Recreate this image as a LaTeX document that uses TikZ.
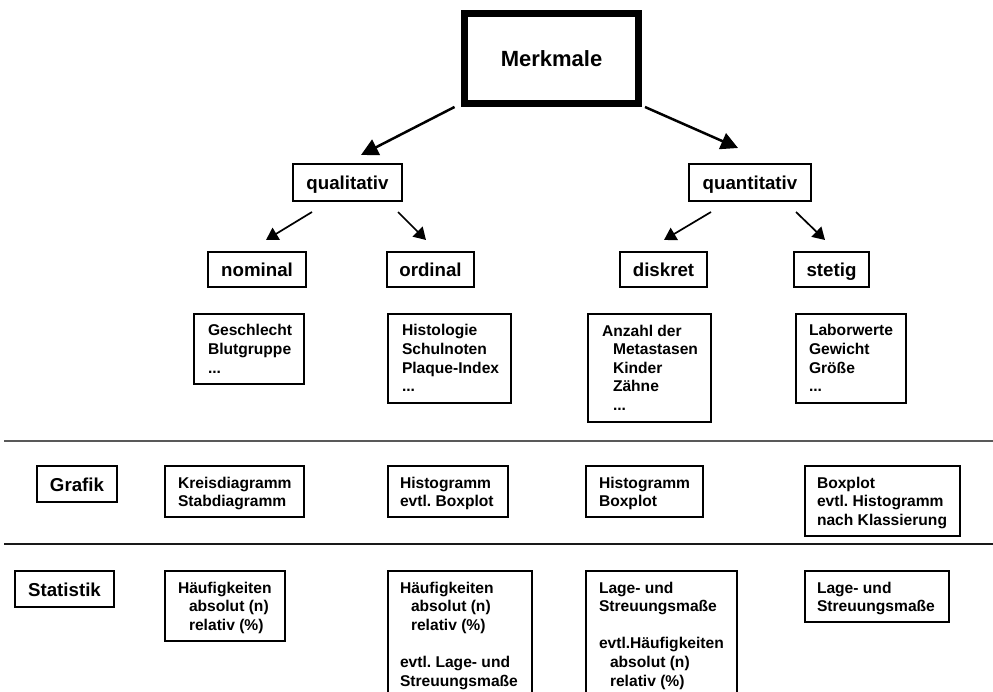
\documentclass[tikz,border=0pt]{standalone}
\usepackage{fontspec}
\setmainfont{Liberation Sans}
\usetikzlibrary{arrows.meta,calc}
\frenchspacing
\newcommand{\boxtext}[4]{\parbox[c][#2][t]{#1}{\raggedright\frenchspacing\leftskip=#3\relax\fontsize{15.6pt}{18.6pt}\selectfont\bfseries\rule{0pt}{22pt}#4}}
\newcommand{\ind}{\hspace*{11pt}}
\begin{document}
\begin{tikzpicture}[x=1pt,y=-1pt,
  thickbox/.style={draw, line width=7pt, inner sep=0pt, outer sep=0pt,
    font=\fontsize{22pt}{26pt}\selectfont\bfseries, text height=15.5pt, text depth=0pt},
  catbox/.style={draw, line width=1.2pt, inner sep=0pt, outer sep=0pt,
    font=\fontsize{18.7pt}{22pt}\selectfont\bfseries, text height=14pt, text depth=0pt},
  infobox/.style={draw, line width=1.2pt, inner sep=0pt, outer sep=0pt, anchor=north west},
  bigarrow/.style={-{Triangle[length=17pt,width=17pt]}, line width=2.5pt},
  smallarrow/.style={-{Triangle[length=12pt,width=14pt]}, line width=1.7pt},
  sepline/.style={line width=1.4pt},
]
\useasboundingbox (0,0) rectangle (993,692);
\clip (0,0) rectangle (993,692);

% top hierarchy
\node[thickbox, minimum width=174pt, minimum height=90pt] (merk) at (551.5,58.5) {Merkmale};
\node[catbox, minimum width=109pt, minimum height=37pt] (qual) at (347.5,182.5) {qualitativ};
\node[catbox, minimum width=122pt, minimum height=37pt] (quant) at (750,182.5) {quantitativ};
\node[catbox, minimum width=98pt, minimum height=35pt] (nominal) at (257,269.5) {nominal};
\node[catbox, minimum width=87pt, minimum height=35pt] (ordinal) at (430.5,269.5) {ordinal};
\node[catbox, minimum width=87pt, minimum height=35pt] (diskret) at (663.5,269.5) {diskret};
\node[catbox, minimum width=75pt, minimum height=35pt] (stetig) at (831.5,269.5) {stetig};

\draw[bigarrow] ($(merk.south west)+(-10,3.5)$) -- ($(qual.north)+(13.5,-9)$);
\draw[bigarrow] ($(merk.south east)+(6.5,3.5)$) -- ($(quant.north)+(-12,-16)$);
\draw[smallarrow] ($(qual.south)+(-35.5,11)$) -- ($(nominal.north)+(9,-12)$);
\draw[smallarrow] ($(qual.south)+(50.5,11)$) -- ($(ordinal.north)+(-4.5,-12)$);
\draw[smallarrow] ($(quant.south)+(-39,11)$) -- ($(diskret.north)+(0.5,-12)$);
\draw[smallarrow] ($(quant.south)+(46,11)$) -- ($(stetig.north)+(-6.5,-12)$);

% examples
\node[infobox] (ex1) at (194,314) {\boxtext{110pt}{70pt}{14pt}{Geschlecht\\Blutgruppe\\...}};
\node[infobox] (ex2) at (388,314) {\boxtext{123pt}{89pt}{14pt}{Histologie\\Schulnoten\\Plaque-Index\\...}};
\node[infobox] (ex3) at (588,314) {\boxtext{123pt}{108pt}{14pt}{Anzahl der\\\ind Metastasen\\\ind Kinder\\\ind Zähne\\\ind ...}};
\node[infobox] (ex4) at (796,314) {\boxtext{110pt}{89pt}{13pt}{Laborwerte\\Gewicht\\Größe\\...}};

% separators
\draw[sepline, black!65] (4,441) -- (993,441);
\draw[sepline, black!90] (4,544) -- (993,544);

% Grafik row
\node[catbox, minimum width=80pt, minimum height=36pt] (grafik) at (77,484) {Grafik};
\node[infobox] (g1) at (165,466) {\boxtext{139pt}{51pt}{13pt}{Kreisdiagramm\\Stabdiagramm}};
\node[infobox] (g2) at (388,466) {\boxtext{120pt}{51pt}{12pt}{Histogramm\\evtl. Boxplot}};
\node[infobox] (g3) at (586,466) {\boxtext{117pt}{51pt}{13pt}{Histogramm\\Boxplot}};
\node[infobox] (g4) at (805,466) {\boxtext{155pt}{70pt}{12pt}{Boxplot\\evtl. Histogramm\\nach Klassierung}};

% Statistik row
\node[catbox, minimum width=99pt, minimum height=36pt] (statistik) at (64.5,589) {Statistik};
\node[infobox] (s1) at (165,571) {\boxtext{120pt}{70pt}{13pt}{Häufigkeiten\\\ind absolut (n)\\\ind relativ (\%)}};
\node[infobox] (s2) at (388,571) {\boxtext{144pt}{140pt}{12pt}{Häufigkeiten\\\ind absolut (n)\\\ind relativ (\%)\\[18.6pt]evtl. Lage- und\\Streuungsmaße}};
\node[infobox] (s3) at (586,571) {\boxtext{151pt}{140pt}{13pt}{Lage- und\\Streuungsmaße\\[18.6pt]evtl.Häufigkeiten\\\ind absolut (n)\\\ind relativ (\%)}};
\node[infobox] (s4) at (805,571) {\boxtext{144pt}{51pt}{12pt}{Lage- und\\Streuungsmaße}};
\end{tikzpicture}
\end{document}
